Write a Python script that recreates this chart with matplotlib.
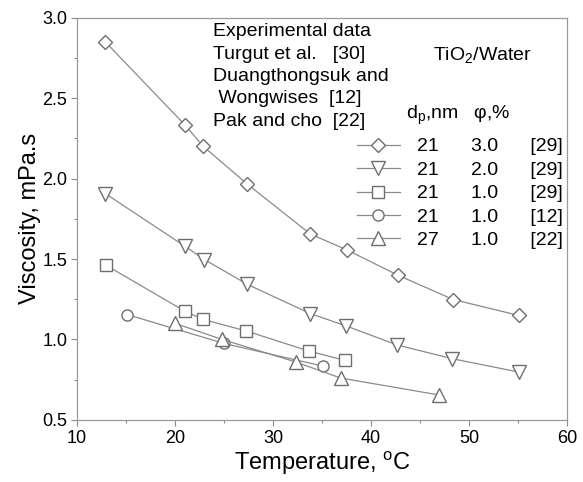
import matplotlib.pyplot as plt
from matplotlib.ticker import MultipleLocator

plt.rcParams['font.family'] = ['Liberation Sans', 'DejaVu Sans']
plt.rcParams['mathtext.fontset'] = 'custom'
plt.rcParams['mathtext.rm'] = 'Liberation Sans'
plt.rcParams['mathtext.it'] = 'Liberation Sans:italic'

# data (temperature in C, viscosity in mPa.s)
t_d30 = [12.9, 21.0, 22.9, 27.4, 33.8, 37.6, 42.8, 48.4, 55.1]
mu_d30 = [2.85, 2.335, 2.20, 1.965, 1.656, 1.555, 1.398, 1.248, 1.149]

t_d20 = [12.9, 21.0, 23.0, 27.4, 33.8, 37.5, 42.7, 48.3, 55.1]
mu_d20 = [1.907, 1.58, 1.497, 1.342, 1.161, 1.083, 0.965, 0.88, 0.797]

t_d10 = [13.0, 21.0, 22.9, 27.3, 33.7, 37.4]
mu_d10 = [1.46, 1.176, 1.124, 1.052, 0.927, 0.869]

t_c10 = [15.1, 25.0, 35.1]
mu_c10 = [1.155, 0.975, 0.834]

t_p10 = [20.0, 24.8, 32.3, 36.9, 46.9]
mu_p10 = [1.10, 1.00, 0.86, 0.76, 0.655]

dp = ['21', '21', '21', '21', '27']
phi = ['3.0', '2.0', '1.0', '1.0', '1.0']
refs = ['[29]', '[29]', '[29]', '[12]', '[22]']

series = [(t_d30, mu_d30), (t_d20, mu_d20), (t_d10, mu_d10),
          (t_c10, mu_c10), (t_p10, mu_p10)]
markers = ['D', 'v', 's', 'o', '^']
msizes = [7.6, 10.5, 8, 8, 10.5]

line_c = '#8a8a8a'
edge_c = '#6e6e6e'

fig = plt.figure(figsize=(5.83, 4.82), dpi=100)
ax = fig.add_axes([0.132, 0.129, 0.8405, 0.834])

handles = []
for (x, y), m, ms in zip(series, markers, msizes):
    h, = ax.plot(x, y, color=line_c, linewidth=0.9, marker=m, markersize=ms,
                 markerfacecolor='white', markeredgecolor=edge_c,
                 markeredgewidth=1.0)
    handles.append(h)

ax.set_xlim(10, 60)
ax.set_ylim(0.5, 3.0)
ax.xaxis.set_major_locator(MultipleLocator(10))
ax.xaxis.set_minor_locator(MultipleLocator(5))
ax.yaxis.set_major_locator(MultipleLocator(0.5))
ax.yaxis.set_minor_locator(MultipleLocator(0.25))
ax.yaxis.set_major_formatter(plt.FormatStrFormatter('%.1f'))
ax.tick_params(which='both', direction='out', colors='#8a8a8a',
               labelcolor='black', labelsize=13, pad=3)
ax.tick_params(which='major', length=4, width=0.8)
ax.tick_params(which='minor', length=2.5, width=0.8)
for s in ax.spines.values():
    s.set_color('#9a9a9a')
    s.set_linewidth(0.9)

ax.set_xlabel('Temperature, $^{\\mathrm{o}}$C', fontsize=17, labelpad=2)
ax.set_ylabel('Viscosity, mPa.s', fontsize=17, labelpad=1)

# experimental data annotation
notes = ['Experimental data', 'Turgut et al.   [30]', 'Duangthongsuk and',
         ' Wongwises  [12]', 'Pak and cho  [22]']
for i, s in enumerate(notes):
    ax.text(0.278, 0.965 - i * 0.0555, s, transform=ax.transAxes,
            fontsize=14, va='center', ha='left')
ax.text(0.727, 0.908, 'TiO$_\\mathrm{2}$/Water', transform=ax.transAxes,
        fontsize=14, va='center', ha='left')
ax.text(0.672, 0.758, 'd$_\\mathrm{p}$,nm   \u03c6,%', transform=ax.transAxes,
        fontsize=14, va='center', ha='left')

labels = [f'{a}      {b}      {c}' for a, b, c in zip(dp, phi, refs)]
ax.legend(handles, labels, loc='center left', bbox_to_anchor=(0.571, 0.563),
          frameon=False, fontsize=14, handlelength=2.2, handletextpad=0.9,
          labelspacing=0.3, borderpad=0, borderaxespad=0)

fig.savefig('out.png', dpi=100)
